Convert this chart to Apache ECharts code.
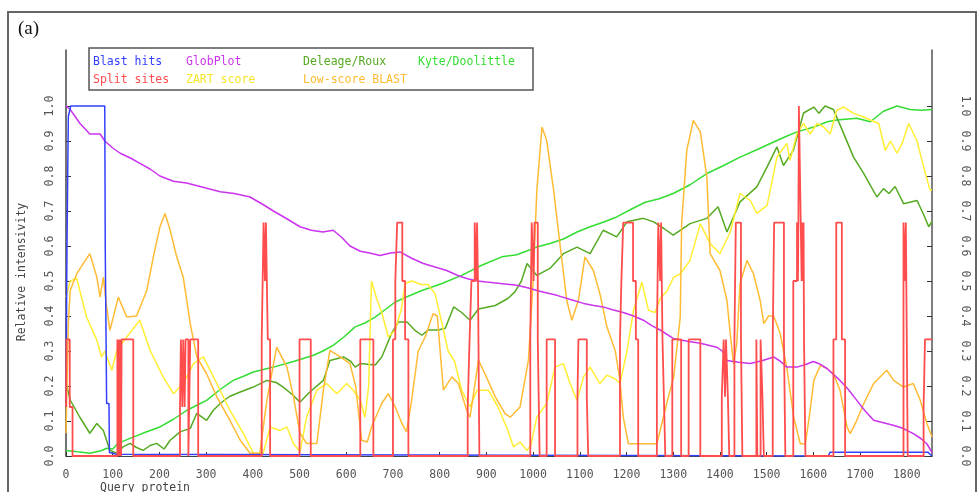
<!DOCTYPE html>
<html>
<head>
<meta charset="utf-8">
<script src="https://cdn.jsdelivr.net/npm/echarts@6/dist/echarts.min.js"></script>
<style>
html,body{margin:0;padding:0;background:#fff;}
#chart{width:979px;height:492px;}
</style>
</head>
<body>
<div id="chart"></div>
<script>
// ---------- data ----------
const xTicks = [0,100,200,300,400,500,600,700,800,900,1000,1100,1200,1300,1400,1500,1600,1700,1800];
const yTicks = [0,0.1,0.2,0.3,0.4,0.5,0.6,0.7,0.8,0.9,1.0];

const blastHits = [[0,0.14],[2,0.59],[5,0.97],[10,1],[83,1],[84,0.6],[86,0.6],[87,0.15],[92,0.15],[93,0.01],[108,0.005],[112,0],[1632,0],[1636,0.011],[1845,0.011],[1854,0]];

const splitSites = [[0,0.14],[1,0.333],[8,0.14],[14,0],
[110,0.333],[112,0],[113,0.333],[115,0],[116,0.333],[118,0],[119,0.333],[144,0],
[244,0.14],[246,0.333],[249,0.14],[251,0.333],[254,0.14],[256,0.333],[262,0],[266,0.333],[283,0],
[419,0.333],[423,0.667],[426,0.5],[428,0.667],[432,0.333],[437,0],
[500,0.333],[524,0],
[630,0.333],[658,0],
[700,0.333],[705,0.5],[709,0.667],[720,0.5],[726,0.333],[733,0],
[860,0.14],[864,0.333],[868,0.5],[875,0.667],[878,0.5],[880,0.667],[882,0.5],[885,0],
[994,0.333],[997,0.667],[1001,0.5],[1003,0.667],[1010,0.333],[1014,0],
[1029,0.333],[1047,0],
[1095,0.169],[1097,0.333],[1115,0.169],[1118,0],
[1186,0.333],[1189,0.5],[1193,0.667],[1214,0.5],[1220,0.333],[1225,0],
[1265,0.333],[1268,0.667],[1272,0.5],[1274,0.667],[1277,0.333],[1280,0.169],[1283,0],
[1298,0.333],[1317,0],
[1333,0.333],[1358,0],
[1404,0.169],[1408,0.333],[1411,0.169],[1413,0.333],[1417,0.169],[1420,0],
[1431,0.333],[1434,0.667],[1445,0.333],[1448,0],
[1478,0.333],[1480,0],[1487,0.333],[1491,0.169],[1494,0],
[1513,0.333],[1516,0.667],[1537,0.333],[1540,0],
[1557,0.5],[1565,0.667],[1567,0.5],[1568,0.667],[1569,1.0],[1573,0.667],[1575,0.5],[1576,0.667],[1578,0.5],[1579,0.667],[1580,0.333],[1583,0],
[1643,0.333],[1649,0.667],[1661,0.333],[1668,0],
[1793,0.667],[1796,0.5],[1798,0.667],[1802,0],
[1836,0.14],[1839,0.333],[1854,0.333]];

const globPlot = [[0,1.0],[9,0.99],[30,0.95],[51,0.92],[73,0.92],[83,0.90],[100,0.88],[116,0.865],[140,0.85],[158,0.836],[180,0.82],[201,0.80],[230,0.785],[258,0.78],[287,0.77],[330,0.755],[360,0.75],[394,0.74],[420,0.72],[444,0.70],[470,0.68],[501,0.655],[525,0.645],[550,0.64],[572,0.645],[590,0.625],[608,0.60],[630,0.585],[650,0.58],[672,0.573],[695,0.58],[715,0.583],[740,0.565],[765,0.55],[790,0.54],[815,0.53],[840,0.515],[858,0.507],[880,0.50],[901,0.497],[930,0.493],[965,0.488],[990,0.48],[1008,0.473],[1030,0.466],[1051,0.459],[1080,0.447],[1108,0.436],[1130,0.43],[1150,0.426],[1170,0.418],[1193,0.41],[1215,0.40],[1236,0.388],[1255,0.372],[1272,0.36],[1300,0.336],[1330,0.328],[1358,0.322],[1393,0.311],[1405,0.30],[1415,0.273],[1440,0.268],[1465,0.264],[1490,0.272],[1515,0.283],[1530,0.27],[1543,0.254],[1565,0.254],[1585,0.262],[1600,0.27],[1615,0.262],[1629,0.25],[1657,0.216],[1675,0.19],[1693,0.159],[1710,0.13],[1729,0.102],[1750,0.095],[1771,0.088],[1790,0.08],[1814,0.064],[1830,0.05],[1843,0.035],[1854,0.01]];

const deleageRoux = [[0,0.21],[9,0.16],[30,0.11],[51,0.065],[66,0.093],[80,0.073],[94,0.016],[109,0.008],[122,0.026],[137,0.036],[150,0.025],[165,0.016],[180,0.03],[194,0.036],[210,0.02],[223,0.045],[244,0.069],[266,0.079],[280,0.122],[301,0.102],[315,0.13],[330,0.15],[350,0.17],[373,0.183],[401,0.197],[430,0.216],[450,0.21],[465,0.197],[485,0.175],[501,0.154],[522,0.183],[551,0.216],[565,0.273],[594,0.283],[610,0.27],[619,0.254],[630,0.264],[662,0.26],[676,0.283],[697,0.35],[712,0.383],[730,0.383],[747,0.359],[762,0.345],[775,0.36],[797,0.36],[812,0.365],[830,0.426],[847,0.41],[865,0.388],[883,0.42],[919,0.43],[946,0.45],[961,0.469],[975,0.5],[987,0.55],[1008,0.516],[1036,0.536],[1065,0.578],[1094,0.597],[1122,0.578],[1150,0.645],[1179,0.626],[1201,0.669],[1236,0.679],[1258,0.669],[1280,0.65],[1300,0.631],[1336,0.664],[1372,0.679],[1396,0.712],[1415,0.64],[1443,0.726],[1479,0.769],[1501,0.826],[1522,0.883],[1536,0.83],[1557,0.873],[1579,0.98],[1601,0.997],[1612,0.979],[1625,1.0],[1643,0.99],[1665,0.921],[1686,0.854],[1708,0.807],[1736,0.74],[1750,0.764],[1762,0.75],[1775,0.77],[1793,0.721],[1822,0.73],[1836,0.69],[1847,0.655],[1854,0.67]];

const kyteDoolittle = [[0,0.016],[25,0.012],[51,0.008],[75,0.015],[87,0.022],[100,0.02],[111,0.036],[144,0.054],[170,0.068],[201,0.083],[230,0.105],[258,0.13],[280,0.145],[301,0.159],[330,0.19],[358,0.216],[380,0.228],[401,0.24],[444,0.254],[487,0.27],[530,0.288],[550,0.30],[572,0.316],[595,0.34],[619,0.369],[640,0.38],[662,0.397],[685,0.42],[705,0.44],[735,0.458],[762,0.473],[805,0.493],[847,0.516],[890,0.545],[933,0.569],[965,0.575],[985,0.585],[1008,0.597],[1036,0.607],[1065,0.62],[1094,0.64],[1122,0.655],[1150,0.668],[1179,0.683],[1210,0.705],[1240,0.725],[1270,0.735],[1300,0.75],[1336,0.775],[1372,0.807],[1408,0.83],[1443,0.854],[1479,0.875],[1515,0.897],[1540,0.912],[1565,0.926],[1601,0.94],[1630,0.955],[1650,0.96],[1693,0.965],[1722,0.955],[1750,0.985],[1779,1.0],[1807,0.99],[1830,0.988],[1854,0.99]];

const zartScore = [[0,0.454],[9,0.50],[23,0.507],[44,0.397],[66,0.331],[76,0.283],[83,0.30],[98,0.245],[109,0.302],[130,0.34],[158,0.388],[180,0.302],[208,0.226],[230,0.178],[251,0.207],[273,0.264],[294,0.283],[323,0.207],[351,0.13],[380,0.064],[401,0.008],[422,0.008],[437,0.083],[458,0.073],[473,0.083],[487,0.035],[501,0.012],[515,0.111],[537,0.188],[558,0.207],[580,0.178],[601,0.207],[615,0.188],[630,0.16],[640,0.11],[648,0.2],[654,0.50],[665,0.45],[676,0.41],[690,0.34],[705,0.36],[718,0.42],[726,0.493],[740,0.50],[760,0.49],[775,0.49],[790,0.464],[805,0.378],[818,0.30],[832,0.27],[847,0.188],[865,0.14],[880,0.188],[904,0.188],[925,0.14],[946,0.073],[958,0.026],[972,0.04],[987,0.016],[995,0.03],[1008,0.111],[1029,0.15],[1047,0.254],[1065,0.264],[1079,0.207],[1094,0.159],[1108,0.226],[1122,0.254],[1143,0.207],[1158,0.231],[1176,0.22],[1186,0.207],[1201,0.30],[1215,0.416],[1233,0.497],[1247,0.416],[1261,0.41],[1272,0.45],[1286,0.47],[1301,0.511],[1315,0.52],[1336,0.559],[1358,0.664],[1379,0.607],[1400,0.578],[1422,0.64],[1443,0.75],[1465,0.73],[1479,0.693],[1501,0.716],[1522,0.854],[1543,0.893],[1550,0.845],[1565,0.921],[1579,0.95],[1593,0.92],[1608,0.95],[1622,0.94],[1636,0.92],[1650,0.988],[1665,0.997],[1686,0.979],[1705,0.97],[1722,0.96],[1740,0.95],[1754,0.873],[1765,0.9],[1779,0.865],[1790,0.893],[1804,0.95],[1822,0.9],[1836,0.826],[1850,0.759],[1854,0.76]];

const lowScoreBlast = [[0,0.065],[5,0.379],[9,0.473],[23,0.521],[51,0.578],[66,0.511],[73,0.454],[80,0.511],[87,0.426],[94,0.359],[112,0.454],[130,0.397],[151,0.40],[173,0.473],[187,0.569],[201,0.654],[212,0.693],[223,0.645],[237,0.569],[251,0.511],[266,0.378],[280,0.283],[301,0.235],[323,0.169],[351,0.102],[373,0.045],[394,0.008],[415,0.008],[430,0.159],[451,0.311],[473,0.254],[487,0.169],[501,0.065],[515,0.036],[537,0.036],[551,0.188],[565,0.302],[587,0.283],[608,0.264],[620,0.2],[633,0.045],[645,0.04],[654,0.083],[676,0.15],[690,0.178],[705,0.14],[719,0.093],[729,0.069],[740,0.159],[754,0.30],[769,0.34],[786,0.407],[795,0.40],[801,0.30],[808,0.188],[826,0.226],[840,0.207],[858,0.13],[865,0.111],[883,0.273],[897,0.235],[919,0.169],[940,0.121],[951,0.111],[972,0.14],[990,0.273],[1000,0.5],[1008,0.759],[1019,0.94],[1029,0.902],[1044,0.759],[1058,0.6],[1072,0.445],[1083,0.388],[1097,0.445],[1111,0.569],[1129,0.53],[1143,0.464],[1158,0.369],[1176,0.30],[1186,0.216],[1193,0.111],[1204,0.035],[1265,0.035],[1272,0.073],[1286,0.15],[1301,0.226],[1315,0.397],[1318,0.664],[1329,0.873],[1343,0.959],[1358,0.926],[1372,0.797],[1379,0.578],[1400,0.53],[1415,0.445],[1422,0.35],[1429,0.264],[1436,0.321],[1443,0.493],[1458,0.559],[1472,0.52],[1486,0.445],[1494,0.378],[1504,0.40],[1515,0.40],[1529,0.35],[1543,0.254],[1558,0.11],[1572,0.035],[1583,0.035],[1593,0.13],[1601,0.216],[1615,0.259],[1629,0.25],[1643,0.235],[1657,0.188],[1672,0.083],[1679,0.064],[1693,0.102],[1708,0.15],[1729,0.207],[1757,0.245],[1772,0.216],[1793,0.197],[1814,0.207],[1829,0.159],[1843,0.093],[1854,0.054]];

// ---------- chart ----------
const MONO = '"DejaVu Sans Mono", "Liberation Mono", monospace';
const C = {
  blast: '#3340ff', glob: '#cc33ee', deleage: '#55aa22', kyte: '#33dd33',
  split: '#ff4d4d', zart: '#ffee33', low: '#ffbb33'
};
const chart = echarts.init(document.getElementById('chart'), null, {renderer: 'canvas'});

function line(name, data, color, z, step, width) {
  const s = {
    name, type: 'line', data, showSymbol: false, symbol: 'none', z,
    lineStyle: {color, width: width || 1.5}, itemStyle: {color},
    emphasis: {disabled: true}, animation: false
  };
  if (step) s.step = step;
  return s;
}
function legendCol(left, items) {
  return {
    left, top: 56, orient: 'vertical', padding: 0, itemGap: 6,
    itemWidth: 0, itemHeight: 0, icon: 'rect', selectedMode: false,
    textStyle: {fontFamily: MONO, fontSize: 11.5, lineHeight: 12},
    data: items.map(([n, c]) => ({name: n, textStyle: {color: c}}))
  };
}
const yAxisBase = {
  type: 'value', min: 0, max: 1.16,
  splitLine: {show: false},
  axisLine: {show: true, lineStyle: {color: '#444', width: 1.5}},
  axisTick: {show: true, inside: true, length: 5, customValues: yTicks, lineStyle: {color: '#333'}},
};

chart.setOption({
  animation: false,
  backgroundColor: '#fff',
  grid: {left: 66, right: 47, top: 50, bottom: 36, containLabel: false},
  legend: [
    legendCol(88, [['Blast hits', C.blast], ['Split sites', C.split]]),
    legendCol(181, [['GlobPlot', C.glob], ['ZART score', '#f5e62a']]),
    legendCol(298, [['Deleage/Roux', C.deleage], ['Low-score BLAST', C.low]]),
    legendCol(413, [['Kyte/Doolittle', C.kyte]])
  ],
  xAxis: {
    type: 'value', min: 0, max: 1854,
    splitLine: {show: false},
    axisLine: {show: true, onZero: false, lineStyle: {color: '#444', width: 1}},
    axisTick: {show: true, inside: true, length: 4, customValues: xTicks, lineStyle: {color: '#333'}},
    axisLabel: {customValues: xTicks, color: '#555', fontFamily: MONO, fontSize: 11.5, margin: 13,
      formatter: v => String(v)}
  },
  yAxis: [
    Object.assign({}, yAxisBase, {
      position: 'left',
      axisLabel: {customValues: yTicks, rotate: 90, color: '#555', fontFamily: MONO, fontSize: 11.5, margin: 10,
        formatter: v => v.toFixed(1)}
    }),
    Object.assign({}, yAxisBase, {
      position: 'right',
      axisLine: {show: true, lineStyle: {color: '#555', width: 1.5}},
      axisLabel: {customValues: yTicks, rotate: -90, color: '#555', fontFamily: MONO, fontSize: 11.5, margin: 27,
        formatter: v => v.toFixed(1)}
    })
  ],
  graphic: [
    {type: 'rect', shape: {x: 8, y: 12, width: 968, height: 520}, style: {fill: 'none', stroke: '#666', lineWidth: 2}, silent: true},
    {type: 'text', left: 18, top: 20, style: {text: '(a)', font: '19px "Liberation Serif", serif', fill: '#111'}},
    {type: 'rect', shape: {x: 89, y: 48, width: 444, height: 42}, style: {fill: 'none', stroke: '#555', lineWidth: 1.5}, silent: true, z: 10},
    {type: 'text', x: 22, y: 272, rotation: Math.PI / 2, style: {text: 'Relative intensivity', font: '11.5px ' + MONO, fill: '#444', align: 'center', verticalAlign: 'middle'}},
    {type: 'text', left: 100, top: 482, style: {text: 'Query protein', font: '11.5px ' + MONO, fill: '#444'}}
  ],
  series: [
    line('Kyte/Doolittle', kyteDoolittle, C.kyte, 2),
    line('Deleage/Roux', deleageRoux, C.deleage, 3),
    line('ZART score', zartScore, C.zart, 4),
    line('Low-score BLAST', lowScoreBlast, C.low, 5),
    line('GlobPlot', globPlot, C.glob, 6),
    line('Blast hits', blastHits, C.blast, 7),
    line('Split sites', splitSites, C.split, 8, 'end', 1.8)
  ]
});
</script>
</body>
</html>
